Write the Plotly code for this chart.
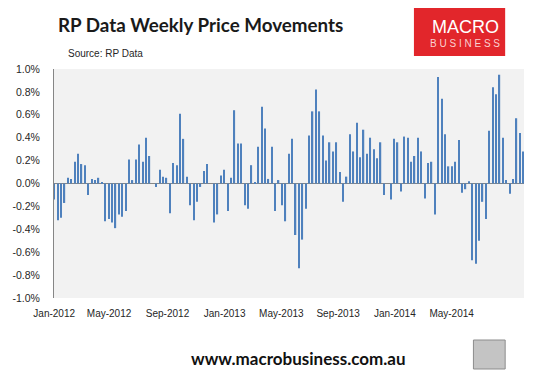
import plotly.graph_objects as go

# Weekly % change, Jan-2012 onward (one value per week)
VALUES = [
    -0.14, -0.32, -0.30, -0.17, 0.05, 0.04, 0.19, 0.26, 0.17, 0.16,
    -0.10, 0.04, 0.03, 0.05, 0.01, -0.33, -0.31, -0.34, -0.39, -0.27,
    -0.29, -0.24, 0.21, 0.03, 0.21, 0.34, 0.19, 0.40, 0.24, 0.00,
    -0.03, 0.12, 0.06, 0.05, -0.26, 0.18, 0.16, 0.61, 0.39, 0.06,
    -0.19, -0.32, -0.16, -0.03, 0.11, 0.17, 0.00, -0.34, -0.27, 0.07,
    0.12, -0.24, 0.05, 0.64, 0.35, 0.35, -0.19, -0.22, 0.16, 0.01,
    0.32, 0.67, 0.48, 0.04, 0.32, -0.24, 0.03, -0.19, -0.33, 0.26,
    0.39, -0.45, -0.74, -0.49, -0.22, 0.42, 0.63, 0.82, 0.63, 0.42,
    0.20, 0.36, 0.28, 0.36, 0.10, -0.16, 0.06, 0.43, 0.28, 0.53,
    0.23, 0.47, 0.26, 0.40, 0.30, 0.22, 0.36, -0.10, 0.00, -0.14,
    0.39, 0.36, -0.07, 0.41, 0.40, 0.19, 0.24, 0.40, 0.28, -0.13,
    0.18, 0.19, -0.27, 0.93, 0.74, 0.43, 0.15, 0.15, 0.19, 0.38,
    -0.08, -0.05, 0.02, -0.67, -0.70, -0.50, -0.16, -0.31, 0.46, 0.84,
    0.78, 0.95, 0.40, 0.03, -0.09, 0.04, 0.57, 0.44, 0.28,
]
WEEKS = list(range(len(VALUES)))

X_TICK_LABELS = ["Jan-2012", "May-2012", "Sep-2012", "Jan-2013",
                 "May-2013", "Sep-2013", "Jan-2014", "May-2014"]
X_TICK_WEEKS = [-0.05, 16.1, 33.3, 50.1, 66.8, 83.5, 100.2, 116.9]

Y_TICKS = [-1.0, -0.8, -0.6, -0.4, -0.2, 0.0, 0.2, 0.4, 0.6, 0.8, 1.0]
Y_TICK_LABELS = [f"{v:.1f}%" for v in Y_TICKS]

W, H = 541, 381
L, R, T, B = 50, 17, 69, 83
PW, PH = W - L - R, H - T - B


def px(x):
    return (x - L) / PW


def py(y):
    return (H - B - y) / PH


fig = go.Figure(
    go.Bar(
        x=WEEKS,
        y=VALUES,
        width=0.38,
        marker=dict(color="#4F81BD", line=dict(width=0)),
    )
)

fig.update_layout(
    width=W,
    height=H,
    margin=dict(l=L, r=R, t=T, b=B),
    paper_bgcolor="white",
    plot_bgcolor="#F2F2F2",
    showlegend=False,
    font=dict(family="Liberation Sans", size=10, color="#262626"),
    xaxis=dict(
        range=[-0.1, len(VALUES) - 0.8],
        tickmode="array",
        tickvals=X_TICK_WEEKS,
        ticktext=X_TICK_LABELS,
        ticks="",
        showgrid=False,
        zeroline=False,
        showline=False,
        ticklabelstandoff=8,
        tickfont=dict(family="Liberation Sans", size=10, color="#262626"),
    ),
    yaxis=dict(
        range=[-1.0, 1.0],
        tickmode="array",
        tickvals=Y_TICKS,
        ticktext=Y_TICK_LABELS,
        ticks="",
        showgrid=False,
        zeroline=True,
        zerolinecolor="#868686",
        zerolinewidth=1,
        showline=True,
        linecolor="#868686",
        linewidth=1,
        ticklabelstandoff=11,
        tickfont=dict(family="Liberation Sans", size=10.5, color="#262626"),
    ),
)

shapes = [
    # Logo box
    dict(type="rect", xref="paper", yref="paper",
         x0=px(413), x1=px(505), y0=py(56), y1=py(8),
         fillcolor="#E2262B", line=dict(width=0), layer="above"),
    # small picture box
    dict(type="rect", xref="paper", yref="paper",
         x0=px(473), x1=px(505), y0=py(369), y1=py(340),
         fillcolor="#C4C4C4", line=dict(width=1, color="#8C8C8C"), layer="above"),
]
fig.update_layout(shapes=shapes)

annotations = [
    dict(text="<b>RP Data Weekly Price Movements</b>", x=px(53), y=py(24),
         xanchor="left", yanchor="middle",
         font=dict(family="Lato", size=18.8, color="#1a1a1a")),
    dict(text="Source: RP Data", x=px(63), y=py(53),
         xanchor="left", yanchor="middle",
         font=dict(family="Liberation Sans", size=10, color="#262626")),
    dict(text="MACRO", x=px(465), y=py(26.8),
         xanchor="center", yanchor="middle",
         font=dict(family="Liberation Sans", size=18, color="white")),
    dict(text="B U S I N E S S", x=px(465), y=py(43.5),
         xanchor="center", yanchor="middle",
         font=dict(family="Liberation Sans", size=10, color="#FAD0D0")),
    dict(text="<b>www.macrobusiness.com.au</b>", x=px(297), y=py(358),
         xanchor="center", yanchor="middle",
         font=dict(family="Lato", size=17, color="#111111")),
]
for a in annotations:
    a.update(xref="paper", yref="paper", showarrow=False, borderpad=0)
fig.update_layout(annotations=annotations)

fig.write_html("out.html", config={"displayModeBar": False},
               post_script="document.body.style.margin='0';")
